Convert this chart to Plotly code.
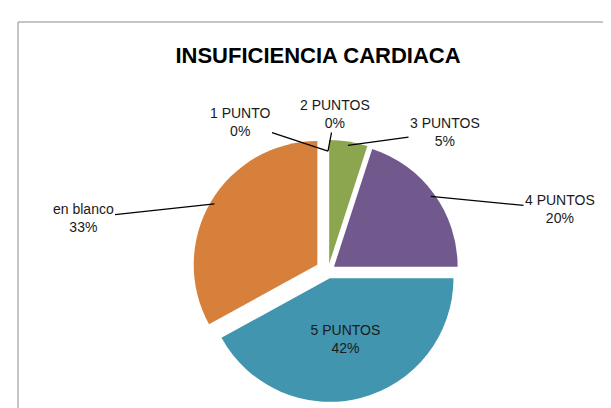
import math
import plotly.graph_objects as go

# ---- data ----
labels = ["1 PUNTO", "2 PUNTOS", "3 PUNTOS", "4 PUNTOS", "5 PUNTOS", "en blanco"]
values = [0, 0, 5, 20, 42, 33]
title_text = "INSUFICIENCIA CARDIACA"

# ---- styles / positions ----
colors = ["#4F81BD", "#C0504D", "#8BA64F", "#71598D", "#4195AE", "#D6803B"]
pulls = [0, 0, 0.06, 0.06, 0.06, 0.10]
# outside label centres in pixels (x, y from top); None -> inside label
label_pos = [(232, 114), (327, 106), (437, 124), (552, 201), None, (75, 210)]

W, H = 611, 408
cx, cy = 320, 263          # pie centre (px)
box_half = 136             # half side of pie domain (px)
max_pull = max(pulls)
r = box_half / (1 + max_pull)

total = sum(values)
pct = [round(v / total * 100) for v in values]
texts = [f"{l}<br>{p}%" for l, p in zip(labels, pct)]
textpos = ["inside" if p is None else "none" for p in label_pos]

fig = go.Figure(go.Pie(
    labels=labels,
    values=values,
    sort=False,
    direction="clockwise",
    rotation=0,
    pull=pulls,
    marker=dict(colors=colors, line=dict(color="white", width=0)),
    text=texts,
    textinfo="text",
    textposition=textpos,
    insidetextorientation="horizontal",
    insidetextfont=dict(family="Liberation Sans", size=14, color="#1a1a1a"),
    hoverinfo="label+percent",
    domain=dict(x=[(cx - box_half) / W, (cx + box_half) / W],
                y=[1 - (cy + box_half) / H, 1 - (cy - box_half) / H]),
))

# leader-line annotations, tips computed from the slice angles
annotations = []
cum = 0.0
for i, v in enumerate(values):
    mid = (cum + v / 2) / total
    cum += v
    if label_pos[i] is None:
        continue
    a = 2 * math.pi * mid
    dx, dy = math.sin(a), -math.cos(a)
    dist = r * (1 + pulls[i]) * 0.97
    tipx, tipy = cx + dx * dist, cy + dy * dist
    tx, ty = label_pos[i]
    annotations.append(dict(
        x=tipx / W, y=1 - tipy / H, xref="paper", yref="paper",
        ax=tx - tipx, ay=ty - tipy,
        text=texts[i], align="center",
        showarrow=True, arrowhead=0, arrowwidth=1.3, arrowcolor="black",
        font=dict(family="Liberation Sans", size=14, color="#1a1a1a"),
    ))

fig.update_layout(
    width=W, height=H,
    margin=dict(l=0, r=0, t=0, b=0),
    paper_bgcolor="white",
    plot_bgcolor="white",
    showlegend=False,
    title=dict(text=f"<b>{title_text}</b>", x=310 / W, xanchor="center",
               y=1 - 47 / H, yanchor="middle", yref="container",
               font=dict(family="Liberation Sans", size=22, color="black")),
    annotations=annotations,
    shapes=[dict(type="rect", xref="paper", yref="paper",
                 x0=10 / W, x1=607 / W, y0=-0.05, y1=1 - 14 / H,
                 line=dict(color="#8C8C8C", width=1), fillcolor="rgba(0,0,0,0)")],
)

fig.write_html("out.html")
